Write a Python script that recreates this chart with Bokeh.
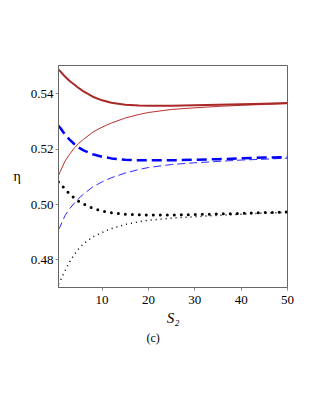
from bokeh.plotting import figure
from bokeh.models import Title, FixedTicker, Range1d, NumeralTickFormatter
from bokeh.embed import file_html
from bokeh.resources import INLINE

# ---- data ----
s2 = [0.6, 1, 2, 3, 4, 5, 6, 8, 10, 12, 15, 18, 20, 25, 30, 35, 40, 45, 50]

red_thick = [0.5488, 0.5482, 0.5463, 0.5447, 0.5434, 0.5421, 0.5409, 0.5390, 0.5377, 0.5368,
             0.5361, 0.5358, 0.5357, 0.5357, 0.5359, 0.5361, 0.5363, 0.5365, 0.5367]
red_thin = [0.5105, 0.5120, 0.5157, 0.5182, 0.5204, 0.5222, 0.5236, 0.5262, 0.5280, 0.5295,
            0.5313, 0.5326, 0.5333, 0.5344, 0.5350, 0.5355, 0.5359, 0.5362, 0.5365]
blue_thick = [0.5285, 0.5277, 0.5253, 0.5235, 0.5219, 0.5206, 0.5196, 0.5182, 0.5173, 0.5167,
              0.5162, 0.5160, 0.5160, 0.5160, 0.5162, 0.5164, 0.5167, 0.5170, 0.5172]
blue_thin = [0.4909, 0.4922, 0.4960, 0.4985, 0.5005, 0.5023, 0.5038, 0.5064, 0.5082, 0.5097,
             0.5114, 0.5127, 0.5134, 0.5145, 0.5151, 0.5156, 0.5161, 0.5164, 0.5168]
black_thick = [0.5082, 0.5076, 0.5056, 0.5039, 0.5024, 0.5011, 0.5002, 0.4987, 0.4977, 0.4970,
               0.4965, 0.4963, 0.4962, 0.4962, 0.4964, 0.4966, 0.4968, 0.4971, 0.4973]
black_thin = [0.4712, 0.4725, 0.4760, 0.4793, 0.4819, 0.4841, 0.4858, 0.4883, 0.4899, 0.4913,
              0.4928, 0.4938, 0.4943, 0.4951, 0.4956, 0.4961, 0.4965, 0.4969, 0.4972]

x_ticks = [10, 20, 30, 40, 50]
y_ticks = [0.48, 0.50, 0.52, 0.54]
y_label = "η"
x_label = "S₂"
caption = "(c)"

SERIF = "Times, serif"

p = figure(width=308, height=401, output_backend="svg", toolbar_location=None,
           x_range=Range1d(0.6, 50), y_range=Range1d(0.470, 0.5503),
           min_border_left=58, min_border_right=21, min_border_top=65, min_border_bottom=114)
p.xgrid.visible = False
p.ygrid.visible = False
p.background_fill_color = "white"
p.border_fill_color = "white"
p.outline_line_color = "#666666"
p.outline_line_width = 1

# curves
p.line(s2, red_thin, line_color="#b83030", line_width=1)
p.line(s2, blue_thin, line_color="#2a2aff", line_width=1, line_dash="8 4")
p.line(s2, black_thin, line_color="black", line_width=1.5, line_dash="1 4")
p.line(s2, red_thick, line_color="#a82828", line_width=2)
p.line(s2, blue_thick, line_color="#0000ff", line_width=2.5, line_dash="10 5")
p.line(s2, black_thick, line_color="black", line_width=3, line_dash="0 7", line_cap="round")

# axes
for ax in (p.xaxis[0], p.yaxis[0]):
    ax.axis_line_color = "#666666"
    ax.major_tick_line_color = "#888888"
    ax.major_tick_in = 0
    ax.major_tick_out = 3
    ax.minor_tick_line_color = None
    ax.major_label_text_font = SERIF
    ax.major_label_text_font_size = "13px"
    ax.major_label_text_color = "black"

p.xaxis.ticker = FixedTicker(ticks=x_ticks)
p.yaxis.ticker = FixedTicker(ticks=y_ticks)
p.yaxis.formatter = NumeralTickFormatter(format="0.00")
p.xaxis.major_label_standoff = 5
p.yaxis.major_label_standoff = 2

p.yaxis.axis_label = y_label
p.yaxis.axis_label_orientation = "horizontal"
p.yaxis.axis_label_text_font = SERIF
p.yaxis.axis_label_text_font_style = "normal"
p.yaxis.axis_label_text_font_size = "14px"
p.yaxis.axis_label_text_color = "black"
p.yaxis.axis_label_standoff = 7

p.xaxis.axis_label = x_label
p.xaxis.axis_label_text_font = SERIF
p.xaxis.axis_label_text_font_style = "italic"
p.xaxis.axis_label_text_font_size = "15px"
p.xaxis.axis_label_text_color = "black"
p.xaxis.axis_label_standoff = 3

# caption below the axis
p.add_layout(Title(text=caption, align="left", offset=88, standoff=0,
                   text_font=SERIF, text_font_style="normal", text_font_size="12px",
                   text_color="black"), "below")

open("out.html", "w").write(file_html(p, INLINE))
